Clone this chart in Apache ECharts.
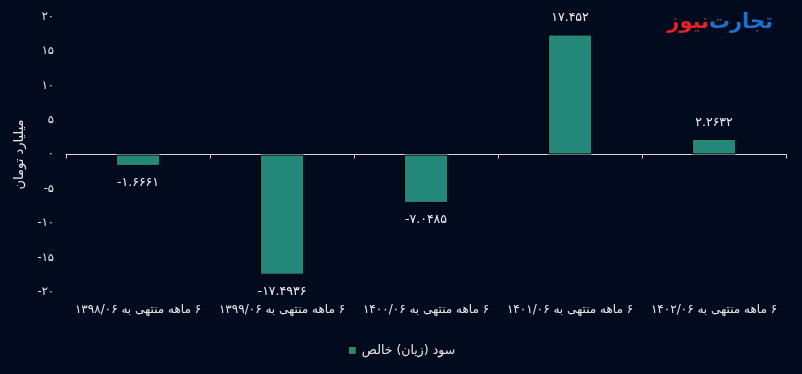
<!DOCTYPE html>
<html><head><meta charset="utf-8">
<script src="https://cdn.jsdelivr.net/npm/echarts@6/dist/echarts.min.js"></script>
<style>html,body{margin:0;padding:0;background:#020b1e;}#c{width:802px;height:374px;}</style>
</head><body><div id="c"></div>
<script>
const categories = ['۶ ماهه منتهی به ۱۳۹۸/۰۶','۶ ماهه منتهی به ۱۳۹۹/۰۶','۶ ماهه منتهی به ۱۴۰۰/۰۶','۶ ماهه منتهی به ۱۴۰۱/۰۶','۶ ماهه منتهی به ۱۴۰۲/۰۶'];
const netProfit = [-1.6661, -17.4936, -7.0485, 17.452, 2.2632];
const seriesName = 'سود (زیان) خالص';
const yAxisName = 'میلیارد تومان';
const logoBlue = 'تجارت';
const logoRed = 'نیوز';

const RLM = '\u200F';
function fa(s){ return String(s).replace(/[0-9]/g, d => '۰۱۲۳۴۵۶۷۸۹'[d]); }
const font = 'DejaVu Sans';

const chart = echarts.init(document.getElementById('c'));
chart.setOption({
  backgroundColor: '#020b1e',
  textStyle: { fontFamily: font },
  grid: { left: 66, right: 16, top: 17, bottom: 82, containLabel: false, outerBoundsMode: 'none' },
  legend: {
    bottom: 12, left: 'center',
    itemWidth: 9, itemHeight: 9, icon: 'rect', itemGap: 6,
    textStyle: { color: '#e8e8e8', fontSize: 12.5, fontFamily: font },
    formatter: n => RLM + n
  },
  xAxis: {
    type: 'category', data: categories,
    axisLine: { lineStyle: { color: '#d9d9d9', width: 1 } },
    axisTick: { show: true, length: 4, lineStyle: { color: '#d9d9d9' } },
    axisLabel: { color: '#e8e8e8', fontSize: 12, fontFamily: font, margin: 12, formatter: v => RLM + v, interval: 0 }
  },
  yAxis: {
    type: 'value', min: -20, max: 20, interval: 5,
    name: yAxisName, nameLocation: 'middle', nameGap: 31, nameRotate: 90,
    nameTextStyle: { color: '#e8e8e8', fontSize: 13, fontFamily: font },
    splitLine: { show: false },
    axisLine: { show: false }, axisTick: { show: false },
    axisLabel: { color: '#e8e8e8', fontSize: 11.5, fontFamily: font, margin: 12, formatter: v => fa(v) }
  },
  series: [{
    name: seriesName, type: 'bar', barWidth: 44,
    data: netProfit.map(v => ({ value: v, label: { position: v < 0 ? 'bottom' : 'top' } })),
    itemStyle: { color: '#23877a', borderColor: '#000000', borderWidth: 1 },
    label: { show: true, color: '#f0f0f0', fontSize: 12.5, fontFamily: font, distance: 10,
      formatter: p => fa(p.value) }
  }],
  graphic: [
    { type: 'text', x: 773, y: 12, style: { text: logoBlue, fill: '#1f6fd1', font: 'bold 21px ' + font, align: 'right' } },
    { type: 'text', x: 709, y: 12, style: { text: logoRed, fill: '#e3202b', font: 'bold 21px ' + font, align: 'right' } }
  ]
});
</script></body></html>
